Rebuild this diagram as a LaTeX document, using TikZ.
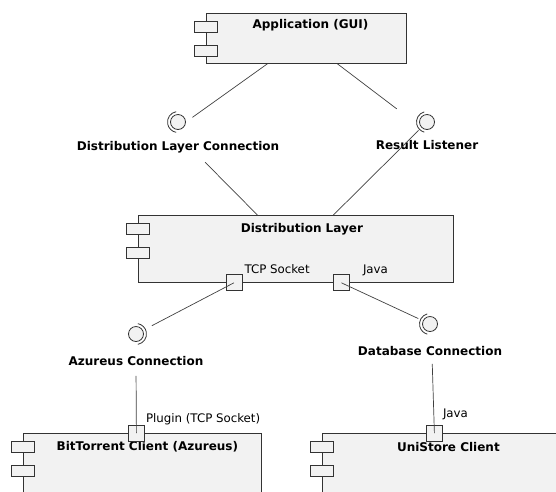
\documentclass[tikz,border=0pt]{standalone}
\usepackage{fontspec}
\setmainfont{DejaVu Sans}
\usepackage{tikz}
\usetikzlibrary{positioning}

\begin{document}
\begin{tikzpicture}[
      x=1pt, y=-1pt,
      comp/.style={draw=black!80, fill=black!5, line width=0.8pt, anchor=north west, inner sep=0pt},
      tab/.style={draw=black!80, fill=black!5, line width=0.8pt, minimum width=23pt,
          minimum height=11pt, inner sep=0pt},
      port/.style={draw=black!80, fill=black!5, line width=0.8pt, minimum size=16pt, inner sep=0pt},
      ball/.style={circle, draw=black!80, fill=black!5, line width=0.8pt, minimum size=15pt, inner sep=0pt},
      socket/.style={draw=black!80, line width=0.8pt},
      title/.style={font=\fontsize{12}{14}\selectfont\bfseries, inner sep=0pt},
      iface/.style={font=\fontsize{12}{14}\selectfont\bfseries, inner sep=0pt},
      tag/.style={font=\fontsize{11.8}{13}\selectfont, inner sep=0pt, anchor=base west},
      link/.style={line width=0.7pt, draw=black!75}
    ]
    \path[use as bounding box, clip] (0,0) rectangle (556,491);
    \node[comp, minimum width=200pt, minimum height=50pt] (app) at (206,13) {};
    \node[comp, minimum width=315pt, minimum height=67pt] (dist) at (138,215) {};
    \node[comp, minimum width=238pt, minimum height=80pt] (bt) at (23,433) {};
    \node[comp, minimum width=244pt, minimum height=80pt] (uni) at (322,433) {};
    \foreach \c in {app, dist, bt, uni} {
      \node[tab] (\c-tab1) at ([yshift=-14pt]\c.north west) {};
      \node[tab] (\c-tab2) at ([yshift=-38pt]\c.north west) {};
    }
    \node[title] (app-title) at ([xshift=4pt, yshift=-12pt]app.north) {Application (GUI)};
    \node[title] (dist-title) at ([xshift=6pt, yshift=-14pt]dist.north) {Distribution Layer};
    \node[title] (bt-title) at ([xshift=5pt, yshift=-14pt]bt.north) {BitTorrent Client (Azureus)};
    \node[title] (uni-title) at ([xshift=4pt, yshift=-14pt]uni.north) {UniStore Client};
    \node[port] (tcp) at ([xshift=-62pt]dist.south) {};
    \node[port] (java) at ([xshift=45.5pt]dist.south) {};
    \node[port] (btport) at ([xshift=-6pt]bt.north) {};
    \node[port] (uniport) at ([xshift=-10pt]uni.north) {};
    \node[tag] (tcp-tag) at ([xshift=2pt, yshift=1pt]tcp.north east) {TCP Socket};
    \node[tag] (java-tag) at ([xshift=13pt, yshift=1pt]java.north east) {Java};
    \node[tag] (btport-tag) at ([xshift=1pt, yshift=2pt]btport.north east) {Plugin (TCP Socket)};
    \node[tag] (uniport-tag) at ([xshift=0pt, yshift=7pt]uniport.north east) {Java};
    \node[ball] (dlc) at (178,122) {};
    \node[ball] (rl) at (427,122) {};
    \node[ball] (az) at (136,334) {};
    \node[ball] (db) at (430,324) {};
    \draw[socket] (dlc.center) ++(100:10.5pt) arc[start angle=100, end angle=260, radius=10.5pt];
    \draw[socket] (rl.center) ++(105:10.5pt) arc[start angle=105, end angle=255, radius=10.5pt];
    \draw[socket] (az.center) ++(-80:10.5pt) arc[start angle=-80, end angle=80, radius=10.5pt];
    \draw[socket] (db.center) ++(105:10.5pt) arc[start angle=105, end angle=255, radius=10.5pt];
    \node[iface] (dlc-label) at (178,147) {Distribution Layer Connection};
    \node[iface] (rl-label) at (427,145) {Result Listener};
    \node[iface] (az-label) at (136,361) {Azureus Connection};
    \node[iface] (db-label) at (430,351) {Database Connection};
    \draw[link, shorten >=8pt] ([xshift=-39pt]app.south) -- (dlc.east);
    \draw[link, shorten >=31pt] ([xshift=31pt]app.south) -- (rl.south west);
    \draw[link, shorten <=13pt] ([xshift=18pt]dlc-label.south) -- ([xshift=-38.5pt]dist.north);
    \draw[link, shorten <=4pt] (rl.south west) -- ([xshift=37.5pt]dist.north);
    \draw[link, shorten >=10pt] (tcp.center) -- (az);
    \draw[link, shorten >=5pt] (java.center) -- (db);
    \draw[link, shorten <=10pt] (az-label.south) -- (btport.center);
    \draw[link, shorten <=8pt] ([xshift=2pt]db-label.south) -- (uniport.center);
  \end{tikzpicture}
\end{document}
